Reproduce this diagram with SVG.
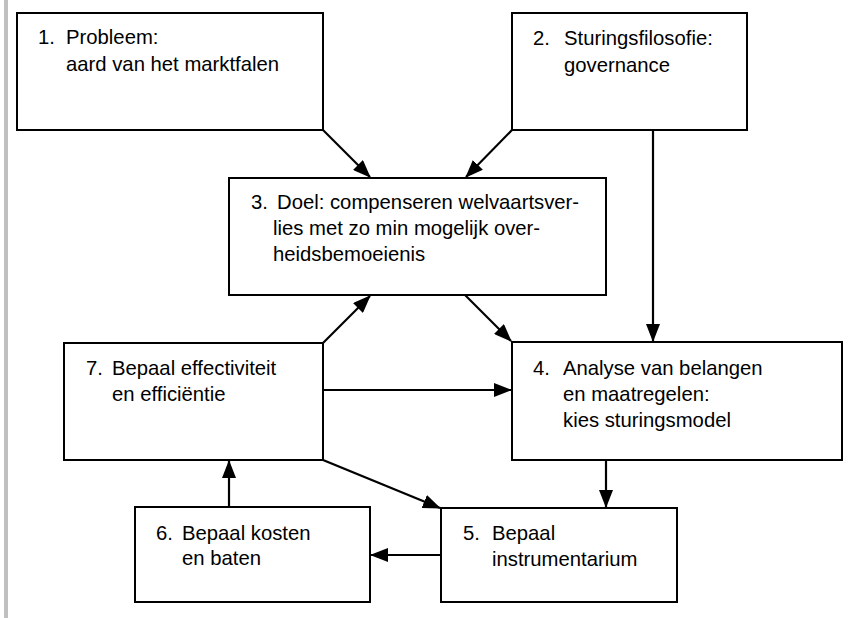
<svg xmlns="http://www.w3.org/2000/svg" width="856" height="618" viewBox="0 0 856 618">
<style>
.box{fill:#fff;stroke:#000;stroke-width:2}
.t{font-family:"Liberation Sans",Arial,sans-serif;font-size:20.3px;fill:#000}
.c{stroke:#000;stroke-width:2.2;fill:none;marker-end:url(#ah)}
</style>
<defs>
<marker id="ah" markerUnits="userSpaceOnUse" markerWidth="18" markerHeight="14" viewBox="0 0 18 14" refX="17" refY="7" orient="auto">
<path d="M0,0 L18,7 L0,14 Z" fill="#000"/>
</marker>
</defs>
<rect x="0" y="0" width="856" height="618" fill="#fff"/>
<rect x="4" y="0" width="4" height="618" fill="#c0c0c0"/>
<g id="connectors">
<line class="c" x1="323" y1="130" x2="370" y2="177"/>
<line class="c" x1="512" y1="130" x2="466" y2="177"/>
<line class="c" x1="653" y1="130" x2="653" y2="341"/>
<line class="c" x1="465" y1="295" x2="511" y2="341"/>
<line class="c" x1="323" y1="343" x2="370" y2="296"/>
<line class="c" x1="323" y1="390" x2="511" y2="390"/>
<line class="c" x1="606" y1="460" x2="606" y2="507"/>
<line class="c" x1="323" y1="460" x2="440" y2="508"/>
<line class="c" x1="229" y1="507" x2="229" y2="461"/>
<line class="c" x1="441" y1="555" x2="371" y2="555"/>
</g>
<g id="n1"><rect class="box" x="17" y="13" width="306" height="117"/>
<text class="t" x="38" y="44">1.</text><text class="t" x="66" y="44">Probleem:</text><text class="t" x="66" y="71">aard van het marktfalen</text></g>
<g id="n2"><rect class="box" x="512" y="13" width="235" height="117"/>
<text class="t" x="533" y="45">2.</text><text class="t" x="564" y="45">Sturingsfilosofie:</text><text class="t" x="564" y="72">governance</text></g>
<g id="n3"><rect class="box" x="229" y="178" width="377" height="117"/>
<text class="t" x="251" y="209">3.</text><text class="t" x="277" y="209">Doel: compenseren welvaartsver-</text><text class="t" x="273" y="235">lies met zo min mogelijk over-</text><text class="t" x="273" y="261">heidsbemoeienis</text></g>
<g id="n4"><rect class="box" x="512" y="342" width="330" height="118"/>
<text class="t" x="533" y="375">4.</text><text class="t" x="563" y="375">Analyse van belangen</text><text class="t" x="563" y="401">en maatregelen:</text><text class="t" x="563" y="427">kies sturingsmodel</text></g>
<g id="n5"><rect class="box" x="441" y="508" width="236" height="94"/>
<text class="t" x="463" y="540">5.</text><text class="t" x="492" y="540">Bepaal</text><text class="t" x="492" y="566">instrumentarium</text></g>
<g id="n6"><rect class="box" x="135" y="507" width="235" height="95"/>
<text class="t" x="156" y="540">6.</text><text class="t" x="182" y="540">Bepaal kosten</text><text class="t" x="182" y="565">en baten</text></g>
<g id="n7"><rect class="box" x="64" y="343" width="259" height="117"/>
<text class="t" x="86" y="375">7.</text><text class="t" x="112" y="375">Bepaal effectiviteit</text><text class="t" x="112" y="401">en efficiëntie</text></g>
</svg>
